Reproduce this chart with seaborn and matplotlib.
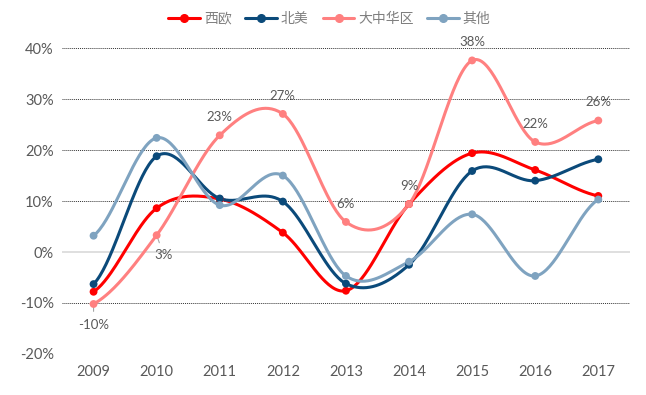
import numpy as np
import pandas as pd
import matplotlib
matplotlib.use("Agg")
import matplotlib.pyplot as plt
import seaborn as sns

years = ["2009", "2010", "2011", "2012", "2013", "2014", "2015", "2016", "2017"]
west_europe = [-7.8, 8.6, 10.4, 3.8, -7.6, 9.4, 19.4, 16.1, 11.0]
north_america = [-6.3, 18.8, 10.5, 9.9, -6.2, -2.5, 15.9, 14.0, 18.2]
greater_china = [-10.2, 3.3, 22.9, 27.1, 5.9, 9.4, 37.6, 21.6, 25.8]
others = [3.2, 22.4, 9.2, 15.0, -4.7, -1.9, 7.4, -4.7, 10.3]
china_labels = ["-10%", "3%", "23%", "27%", "6%", "9%", "38%", "22%", "26%"]

series_names = ["西欧", "北美", "大中华区", "其他"]
series_values = [west_europe, north_america, greater_china, others]
colors = ["#FF0000", "#0B4A7A", "#FF8080", "#7FA3C0"]

sns.set_style("white")
plt.rcParams["font.family"] = ["Lato", "Noto Sans CJK SC", "DejaVu Sans"]

def catmull_rom(y, n=40):
    y = np.asarray(y, dtype=float)
    p = np.concatenate([[y[0]], y, [y[-1]]])
    xs, ys = [], []
    for i in range(len(y) - 1):
        p0, p1, p2, p3 = p[i], p[i + 1], p[i + 2], p[i + 3]
        t = np.linspace(0, 1, n, endpoint=(i == len(y) - 2))
        m1 = (p2 - p0) / 2.0
        m2 = (p3 - p1) / 2.0
        h00 = 2 * t**3 - 3 * t**2 + 1
        h10 = t**3 - 2 * t**2 + t
        h01 = -2 * t**3 + 3 * t**2
        h11 = t**3 - t**2
        ys.append(h00 * p1 + h10 * m1 + h01 * p2 + h11 * m2)
        xs.append(i + t)
    return np.concatenate(xs), np.concatenate(ys)

rows = []
pts = []
for name, vals in zip(series_names, series_values):
    sx, sy = catmull_rom(vals)
    rows.append(pd.DataFrame({"x": sx, "y": sy, "series": name}))
    pts.append(pd.DataFrame({"x": np.arange(len(years)), "y": vals, "series": name}))
smooth = pd.concat(rows, ignore_index=True)
points = pd.concat(pts, ignore_index=True)
palette = dict(zip(series_names, colors))

fig = plt.figure(figsize=(6.46, 3.95), dpi=100)
ax = fig.add_axes([0.096, 0.104, 0.879, 0.774])

# grid lines
for v in [-20, -10, 10, 20, 30, 40]:
    ax.axhline(v, color="#333333", lw=0.7, ls=(0, (1, 1)), zorder=0)
ax.axhline(0, color="#D9D9D9", lw=1.2, zorder=0)

sns.lineplot(data=smooth, x="x", y="y", hue="series", palette=palette,
             hue_order=series_names, lw=2.2, ax=ax, legend=False, sort=False,
             estimator=None, units=None)
sns.scatterplot(data=points, x="x", y="y", hue="series", palette=palette,
                hue_order=series_names, s=32, edgecolor="none", ax=ax,
                legend=False, zorder=5)

label_color = "#595959"
for i, (v, lab) in enumerate(zip(greater_china, china_labels)):
    if i == 0:
        ax.annotate(lab, xy=(i, v), xytext=(0, -15), textcoords="offset points",
                    ha="center", va="center", fontsize=9.5, color=label_color,
                    arrowprops=dict(arrowstyle="-", color="#A6A6A6", lw=0.8,
                                    shrinkA=3, shrinkB=6))
    elif i == 1:
        ax.annotate(lab, xy=(i, v), xytext=(5, -14), textcoords="offset points",
                    ha="center", va="center", fontsize=9.5, color=label_color,
                    arrowprops=dict(arrowstyle="-", color="#A6A6A6", lw=0.8,
                                    shrinkA=2, shrinkB=6))
    else:
        ax.annotate(lab, xy=(i, v), xytext=(0, 13), textcoords="offset points",
                    ha="center", va="center", fontsize=9.5, color=label_color)

ax.set_xlim(-0.5, len(years) - 0.5)
ax.set_ylim(-20, 40)
ax.set_xticks(range(len(years)))
ax.set_xticklabels(years)
ax.set_yticks([-20, -10, 0, 10, 20, 30, 40])
ax.set_yticklabels([f"{v}%" for v in [-20, -10, 0, 10, 20, 30, 40]])
ax.tick_params(axis="both", length=0, labelsize=10.5, labelcolor=label_color)
ax.tick_params(axis="x", pad=8)
ax.tick_params(axis="y", pad=6)
ax.set_xlabel("")
ax.set_ylabel("")
for s in ax.spines.values():
    s.set_visible(False)

handles = [plt.Line2D([0], [0], color=c, lw=2.2, marker="o", ms=5.5) for c in colors]
leg = fig.legend(handles, series_names, loc="center", bbox_to_anchor=(0.51, 0.953),
                 ncol=4, frameon=False, fontsize=10, handlelength=2.3,
                 handletextpad=0.25, columnspacing=1.0)
for t in leg.get_texts():
    t.set_color("#7F7F7F")
    t.set_family(["Noto Sans CJK SC", "DejaVu Sans"])

fig.savefig("out.png", dpi=100)
